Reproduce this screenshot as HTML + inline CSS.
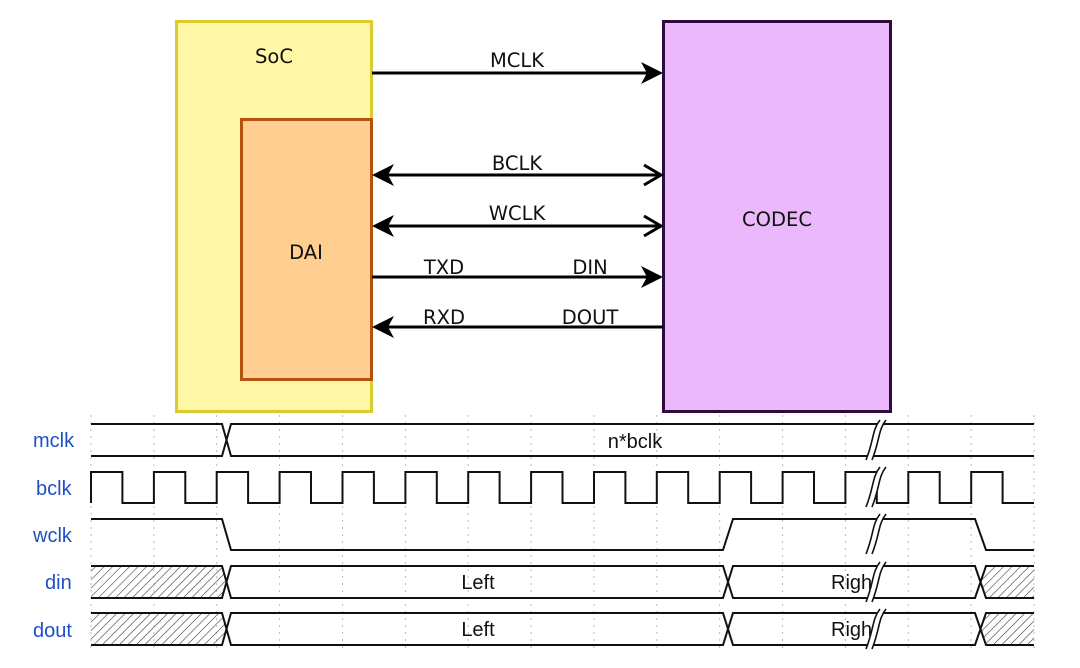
<!DOCTYPE html>
<html><head><meta charset="utf-8"><style>
html,body{margin:0;padding:0;background:#fff;}
svg{display:block;}
.t{font-family:"DejaVu Sans",sans-serif;font-size:19.5px;fill:#111;}
.w{font-family:"Liberation Sans",sans-serif;font-size:20px;fill:#111;}
.l{font-family:"Liberation Sans",sans-serif;font-size:20px;fill:#1f4fc8;}
</style></head><body>
<svg width="1080" height="668" viewBox="0 0 1080 668" xmlns="http://www.w3.org/2000/svg">
<defs>
<pattern id="h" width="6" height="6" patternUnits="userSpaceOnUse" patternTransform="rotate(45)">
<line x1="0" y1="0" x2="0" y2="6" stroke="#333" stroke-width="1.1"/>
</pattern>
</defs>
<rect x="176.5" y="21.5" width="195" height="390" fill="#fff6a6" stroke="#dccb30" stroke-width="3"/>
<rect x="241.5" y="119.5" width="130" height="260" fill="#fecf90" stroke="#b5520f" stroke-width="3"/>
<rect x="663.5" y="21.5" width="227" height="390" fill="#ebb8fb" stroke="#2e0a3e" stroke-width="3"/>
<text class="t" x="274" y="63" text-anchor="middle">SoC</text>
<text class="t" x="306" y="259" text-anchor="middle">DAI</text>
<text class="t" x="777" y="226" text-anchor="middle">CODEC</text>
<g stroke="#000" stroke-width="3" fill="none">
<line x1="372" y1="73" x2="655" y2="73"/>
<line x1="380" y1="175" x2="661" y2="175"/>
<line x1="380" y1="226" x2="661" y2="226"/>
<line x1="372" y1="277" x2="655" y2="277"/>
<line x1="380" y1="327" x2="663" y2="327"/>
<polyline points="644,165 661,175 644,185"/>
<polyline points="644,216 661,226 644,236"/>
</g>
<g fill="#000">
<path d="M663,73 L641,62 L647,73 L641,84 Z"/>
<path d="M663,277 L641,266 L647,277 L641,288 Z"/>
<path d="M372,175 L394,164 L388,175 L394,186 Z"/>
<path d="M372,226 L394,215 L388,226 L394,237 Z"/>
<path d="M372,327 L394,316 L388,327 L394,338 Z"/>
</g>
<text class="t" x="517" y="67" text-anchor="middle">MCLK</text>
<text class="t" x="517" y="170" text-anchor="middle">BCLK</text>
<text class="t" x="517" y="220" text-anchor="middle">WCLK</text>
<text class="t" x="444" y="274" text-anchor="middle">TXD</text>
<text class="t" x="590" y="274" text-anchor="middle">DIN</text>
<text class="t" x="444" y="324" text-anchor="middle">RXD</text>
<text class="t" x="590" y="324" text-anchor="middle">DOUT</text>
<g stroke="#bbb" stroke-width="1" stroke-dasharray="2,5">
<line x1="91" y1="415" x2="91" y2="650"/><line x1="153.9" y1="415" x2="153.9" y2="650"/>
<line x1="216.7" y1="415" x2="216.7" y2="650"/><line x1="279.6" y1="415" x2="279.6" y2="650"/>
<line x1="342.5" y1="415" x2="342.5" y2="650"/><line x1="405.4" y1="415" x2="405.4" y2="650"/>
<line x1="468.2" y1="415" x2="468.2" y2="650"/><line x1="531.1" y1="415" x2="531.1" y2="650"/>
<line x1="594" y1="415" x2="594" y2="650"/><line x1="656.8" y1="415" x2="656.8" y2="650"/>
<line x1="719.7" y1="415" x2="719.7" y2="650"/><line x1="782.6" y1="415" x2="782.6" y2="650"/>
<line x1="845.4" y1="415" x2="845.4" y2="650"/><line x1="908.3" y1="415" x2="908.3" y2="650"/>
<line x1="971.2" y1="415" x2="971.2" y2="650"/><line x1="1034" y1="415" x2="1034" y2="650"/>
</g>
<text class="l" x="33" y="447">mclk</text>
<text class="l" x="36" y="495">bclk</text>
<text class="l" x="33" y="542">wclk</text>
<text class="l" x="45" y="589">din</text>
<text class="l" x="33" y="637">dout</text>
<path d="M91,566 H222 L226.5,582 L222,598 H91 Z" fill="url(#h)"/>
<path d="M91,613 H222 L226.5,629 L222,645 H91 Z" fill="url(#h)"/>
<path d="M1034,566 H986 L980.5,582 L986,598 H1034 Z" fill="url(#h)"/>
<path d="M1034,613 H986 L980.5,629 L986,645 H1034 Z" fill="url(#h)"/>
<g stroke="#111" stroke-width="2" fill="none">
<path d="M91,424 H222 L231,456 H1034"/>
<path d="M91,456 H222 L231,424 H1034"/>
<path d="M91,503 V472 H122.4 V503 H153.9 V472 H185.3 V503 H216.7 V472 H248.1 V503 H279.6 V472 H311 V503 H342.5 V472 H373.9 V503 H405.4 V472 H436.8 V503 H468.2 V472 H499.6 V503 H531.1 V472 H562.5 V503 H594 V472 H625.4 V503 H656.8 V472 H688.2 V503 H719.7 V472 H751.1 V503 H782.6 V472 H814 V503 H845.4 V472 H876.8 V503 H908.3 V472 H939.7 V503 H971.2 V472 H1002.6 V503 H1034"/>
<path d="M91,519 H222 L231,550 H723 L733,519 H975 L986,550 H1034"/>
<path d="M91,566 H222 L231,598 H723 L733,566 H975 L986,598 H1034"/>
<path d="M91,598 H222 L231,566 H723 L733,598 H975 L986,566 H1034"/>
<path d="M91,613 H222 L231,645 H723 L733,613 H975 L986,645 H1034"/>
<path d="M91,645 H222 L231,613 H723 L733,645 H975 L986,613 H1034"/>
</g>
<text class="w" x="635" y="448" text-anchor="middle">n*bclk</text>
<text class="w" x="478" y="589" text-anchor="middle">Left</text>
<text class="w" x="478" y="636" text-anchor="middle">Left</text>
<text class="w" x="831" y="589">Righ</text>
<text class="w" x="831" y="636">Righ</text>
<g>
<path d="M866,460 C874,440 872,430 880,420 L886,420 C878,430 880,440 872,460 Z" fill="#fff"/>
<path d="M866,460 C874,440 872,430 880,420 M872,460 C880,440 878,430 886,420" stroke="#111" stroke-width="1.6" fill="none"/>
<path d="M866,507 C874,487 872,477 880,467 L886,467 C878,477 880,487 872,507 Z" fill="#fff"/>
<path d="M866,507 C874,487 872,477 880,467 M872,507 C880,487 878,477 886,467" stroke="#111" stroke-width="1.6" fill="none"/>
<path d="M866,554 C874,534 872,524 880,514 L886,514 C878,524 880,534 872,554 Z" fill="#fff"/>
<path d="M866,554 C874,534 872,524 880,514 M872,554 C880,534 878,524 886,514" stroke="#111" stroke-width="1.6" fill="none"/>
<path d="M866,602 C874,582 872,572 880,562 L886,562 C878,572 880,582 872,602 Z" fill="#fff"/>
<path d="M866,602 C874,582 872,572 880,562 M872,602 C880,582 878,572 886,562" stroke="#111" stroke-width="1.6" fill="none"/>
<path d="M866,649 C874,629 872,619 880,609 L886,609 C878,619 880,629 872,649 Z" fill="#fff"/>
<path d="M866,649 C874,629 872,619 880,609 M872,649 C880,629 878,619 886,609" stroke="#111" stroke-width="1.6" fill="none"/>
</g>
</svg>
</body></html>
